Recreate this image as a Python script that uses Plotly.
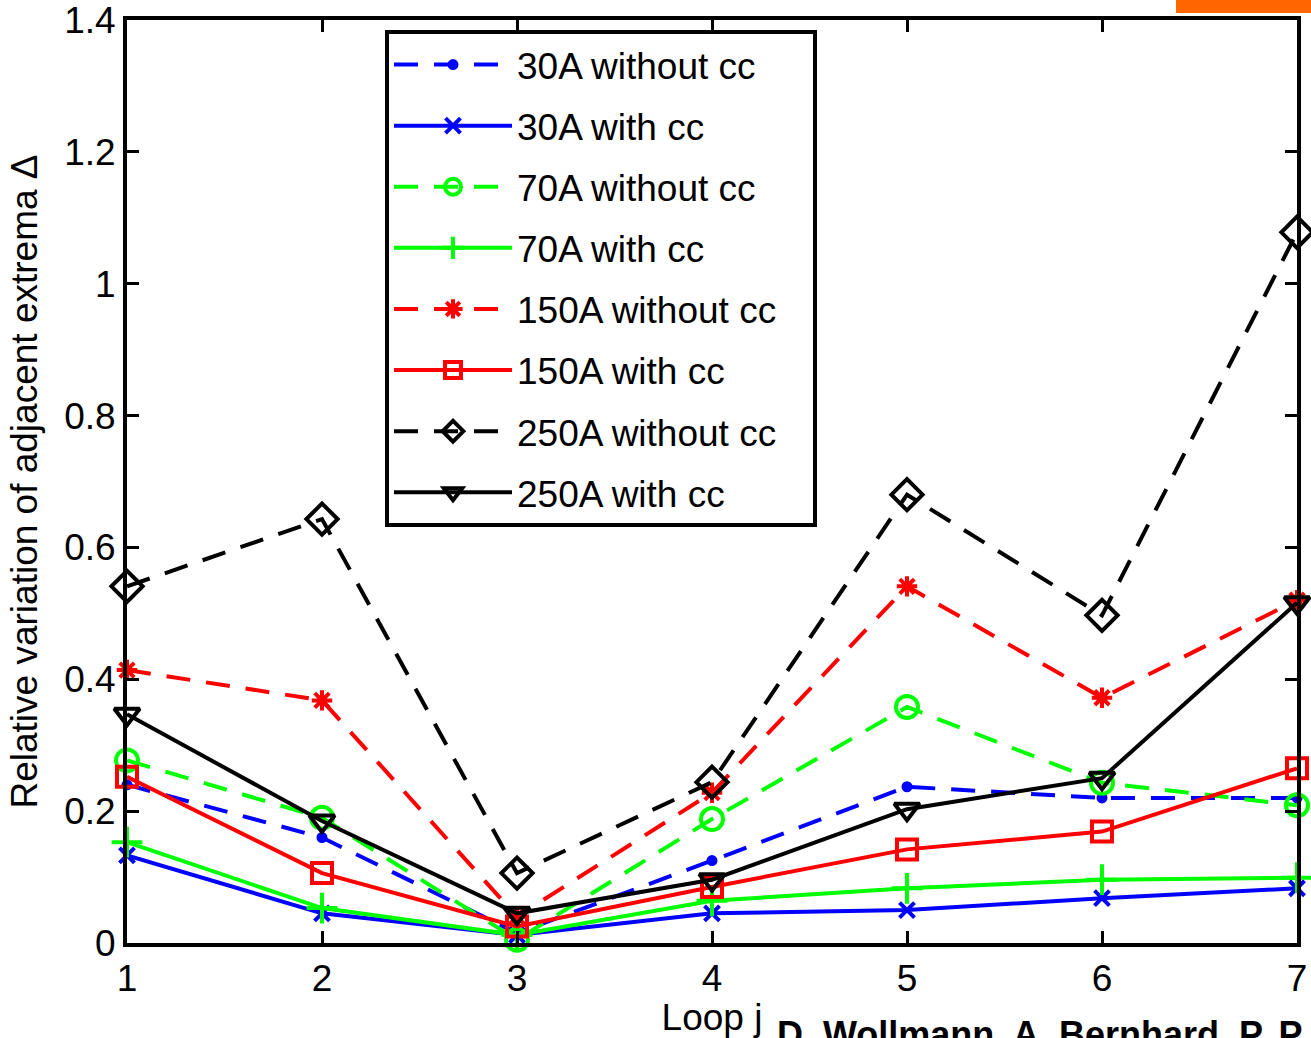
import plotly.graph_objects as go

loops = [1, 2, 3, 4, 5, 6, 7]
a30_without = [0.24, 0.16, 0.015, 0.125, 0.237, 0.22, 0.22]
a30_with = [0.133, 0.045, 0.012, 0.045, 0.05, 0.068, 0.083]
a70_without = [0.277, 0.19, 0.005, 0.188, 0.358, 0.243, 0.209]
a70_with = [0.153, 0.053, 0.012, 0.064, 0.083, 0.096, 0.099]
a150_without = [0.414, 0.368, 0.04, 0.228, 0.541, 0.372, 0.52]
a150_with = [0.252, 0.106, 0.025, 0.085, 0.142, 0.169, 0.265]
a250_without = [0.541, 0.643, 0.106, 0.244, 0.68, 0.497, 1.078]
a250_with = [0.347, 0.185, 0.045, 0.096, 0.203, 0.25, 0.516]

names = ["30A without cc", "30A with cc", "70A without cc", "70A with cc",
         "150A without cc", "150A with cc", "250A without cc", "250A with cc"]
series = [a30_without, a30_with, a70_without, a70_with,
          a150_without, a150_with, a250_without, a250_with]
colors = ["#0000ff", "#0000ff", "#00ff00", "#00ff00",
          "#ff0000", "#ff0000", "#000000", "#000000"]
dashes = ["24px,16px", "solid", "24px,16px", "solid",
          "24px,16px", "solid", "24px,16px", "solid"]
symbols = ["circle", "x-thin-open", "circle-open", "cross-thin-open",
           "asterisk-open", "square-open", "diamond-open", "triangle-down-open"]
sizes = [7, 15, 22, 22, 17, 20, 24, 22]

FONT = "Liberation Sans, Arial, Helvetica, sans-serif"

W, H = 1311, 1038
L, T, R, B = 127, 20, 1297, 943


def px(x):
    return (x - L) / (R - L)


def py(y):
    return (B - y) / (B - T)


fig = go.Figure()
for i, (n, s) in enumerate(zip(names, series)):
    label = n + ("&nbsp;&nbsp;&nbsp;" if "without" in n and n.startswith(("150", "250")) else "")
    fig.add_trace(go.Scatter(
        x=loops, y=s, name=label, mode="lines+markers",
        legendgroup=f"g{i}",
        line=dict(color=colors[i], width=4, dash=dashes[i]),
        marker=dict(symbol=symbols[i], size=sizes[i], color=colors[i],
                    line=dict(color=colors[i], width=4)),
        cliponaxis=False,
    ))

fig.update_layout(
    width=W, height=H,
    margin=dict(l=L, r=W - R, t=T, b=H - B),
    paper_bgcolor="white", plot_bgcolor="white",
    font=dict(family=FONT, size=37, color="black"),
    showlegend=True,
    legend=dict(
        x=px(385), y=py(30), xanchor="left", yanchor="top",
        bordercolor="black", borderwidth=4, bgcolor="white",
        font=dict(size=37), itemwidth=118, tracegroupgap=10,
    ),
    xaxis=dict(
        range=[1, 7], tickvals=loops, ticktext=[str(v) for v in loops],
        showline=True, linewidth=4, linecolor="black", mirror="ticks",
        ticks="inside", ticklen=12, tickwidth=3, tickcolor="black",
        showgrid=False, zeroline=False, automargin=False,
        ticklabeloverflow="allow",
        tickfont=dict(size=37),
        title=dict(text="Loop j", standoff=12, font=dict(size=37)),
    ),
    yaxis=dict(
        range=[0, 1.4], tickvals=[0, 0.2, 0.4, 0.6, 0.8, 1.0, 1.2, 1.4],
        ticktext=["0", "0.2", "0.4", "0.6", "0.8", "1", "1.2", "1.4"],
        showline=True, linewidth=4, linecolor="black", mirror="ticks",
        ticks="inside", ticklen=12, tickwidth=3, tickcolor="black",
        showgrid=False, zeroline=False, automargin=False,
        ticklabeloverflow="allow",
        tickfont=dict(size=37),
        title=dict(text="Relative variation of adjacent extrema Δ", standoff=16,
                   font=dict(size=37)),
    ),
    shapes=[dict(type="rect", xref="paper", yref="paper",
                 x0=px(1176), x1=px(1320), y0=py(13), y1=py(-5),
                 fillcolor="#ff6600", line=dict(width=0), layer="above")],
    annotations=[dict(text="<b>D. Wollmann, A. Bernhard, P. P</b>", xref="paper", yref="paper",
                      x=px(775), y=py(1012),
                      xanchor="left", yanchor="top", showarrow=False,
                      font=dict(size=36, family=FONT, color="black"))],
)

fig.write_html("out.html", config={"displayModeBar": False},
               post_script="document.body.style.margin='0';document.body.style.overflow='hidden';")
